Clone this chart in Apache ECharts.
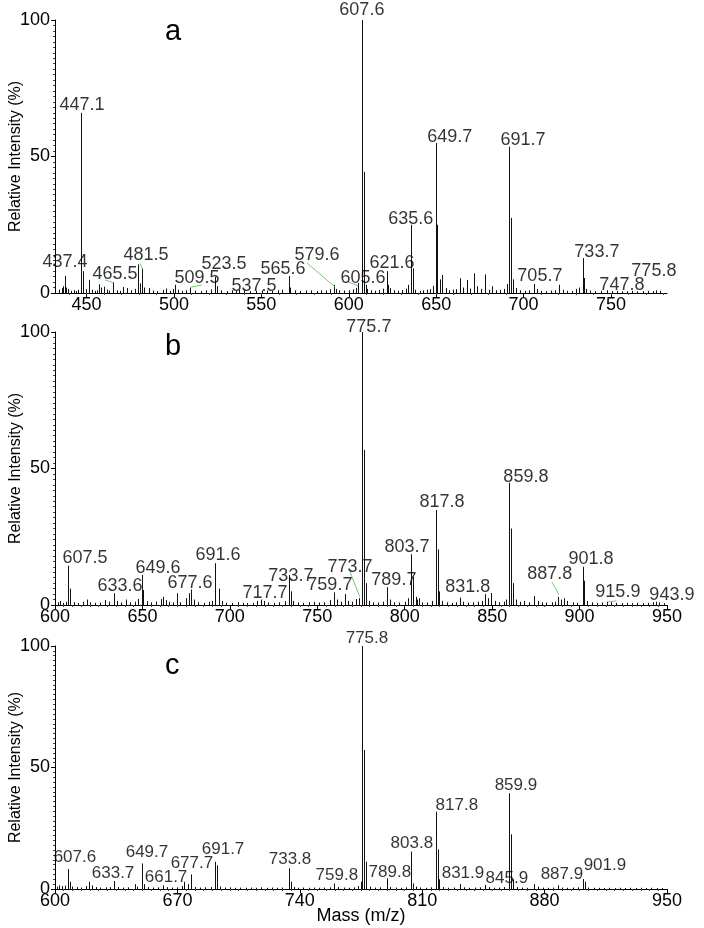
<!DOCTYPE html>
<html><head><meta charset="utf-8">
<script src="https://cdn.jsdelivr.net/npm/echarts/dist/echarts.min.js"></script>
<style>html,body{margin:0;padding:0;background:#fff}#c{width:704px;height:928px}</style>
</head><body><div id="c"></div>
<script>
// ---------- Panel a ----------
var ticksA = [450, 500, 550, 600, 650, 700, 750];
var peaksA = [[437.8,6.3],[447.1,66],[448.1,8],[451.7,4.8],[457.4,3.2],[460.0,2.3],[465.4,3.9],[479.5,10.5],[481.8,9],[500.8,3],[509.2,2.0],[523.7,6],[565.7,6.2],[591.5,3],[605.4,3.7],[607.6,100],[608.6,44.4],[609.6,3],[621.7,8],[622.6,3],[633.9,3],[635.6,25],[636.6,9],[648.1,2.6],[649.7,55],[650.7,25],[651.9,5],[653.6,6.6],[663.7,5.4],[667.5,4.8],[671.7,7.2],[678.0,6.8],[681.8,2.5],[690.5,3.3],[691.7,53.6],[692.7,27.5],[693.7,5],[706.1,3.3],[720.4,3],[733.7,12.8],[734.7,5.5]];
var noiseA = [[434.2,1.2],[435.8,1.8],[436.6,2.5],[438.4,2.0],[439.5,1.5],[441.0,0.8],[442.6,1.0],[444.1,0.7],[445.3,1.2],[449.5,1.4],[453.0,1.2],[454.6,0.8],[456.0,1.0],[458.5,2.0],[461.5,1.3],[463.0,0.9],[467.4,1.0],[469.0,0.8],[471.1,2.2],[473.4,1.8],[475.2,1.0],[477.6,1.5],[480.5,3.5],[483.0,2.0],[485.6,1.8],[488.0,0.9],[490.2,0.7],[493.5,1.1],[495.5,1.6],[497.8,0.8],[499.6,1.4],[502.2,1.2],[504.5,0.8],[507.0,1.0],[512.0,0.9],[515.5,0.7],[518.2,1.0],[521.0,1.3],[524.6,2.5],[527.0,1.0],[530.5,0.7],[533.2,1.0],[535.5,0.8],[537.5,1.2],[540.2,0.9],[543.8,0.7],[547.0,0.8],[550.5,1.0],[553.0,0.9],[556.0,0.7],[559.4,1.0],[562.0,1.2],[566.6,2.0],[569.3,1.0],[572.0,0.8],[575.5,0.9],[578.2,1.0],[581.6,0.8],[584.0,1.0],[587.0,0.9],[589.5,1.4],[592.5,1.5],[594.6,1.0],[597.4,0.9],[600.2,1.0],[602.5,1.3],[604.0,1.8],[610.6,1.5],[612.5,1.0],[614.8,0.8],[617.3,1.1],[619.6,1.6],[623.6,1.8],[625.6,1.0],[628.0,0.8],[630.5,1.1],[632.5,1.6],[638.0,1.2],[640.5,0.8],[642.6,1.0],[644.8,1.2],[646.5,1.4],[655.6,1.8],[657.5,1.0],[659.4,1.2],[661.5,1.4],[665.2,2.0],[669.5,1.6],[673.6,2.5],[675.8,1.5],[680.0,1.2],[684.0,1.0],[686.5,1.2],[688.6,1.5],[695.7,1.8],[698.0,1.0],[700.8,0.8],[703.2,1.0],[707.7,1.5],[710.2,0.8],[713.0,0.7],[715.5,0.9],[718.0,1.0],[722.4,1.2],[725.0,0.8],[727.6,0.7],[730.2,1.5],[731.8,2.0],[735.7,1.5],[738.0,0.9],[741.0,0.7],[744.0,0.8],[747.8,1.0],[750.5,0.7],[753.2,0.8],[756.0,0.6],[759.0,0.7],[762.0,0.8],[765.0,0.6],[768.0,0.7],[771.0,0.8],[774.0,0.7],[775.8,1.0],[778.0,0.8]];
var labelTextA = ['607.6','447.1','649.7','691.7','635.6','621.6','733.7','705.7','747.8','775.8','605.6','579.6','565.6','537.5','523.5','509.5','481.5','465.5','437.4'];
var labelPosA = [[607.5,103.7],[447.4,68.9],[657.8,57.1],[699.6,56.0],[635.5,27.1],[624.7,11.0],[741.9,15.1],[709.3,6.2],[756.2,2.9],[774.5,8.1],[608.1,5.5],[581.8,13.9],[562.4,8.8],[545.8,2.6],[528.6,10.6],[513.2,5.5],[484.0,13.9],[466.3,7.0],[437.7,11.4]];
var leadA = [[[576.1,11.0],[592.1,2.2]],[[599.7,4.0],[605.4,2.7]],[[509.2,2.1],[515.9,2.9]],[[480.6,10.9],[482.1,8.7]],[[460.6,4.8],[465.3,3.8]]];

// ---------- Panel b ----------
var ticksB = [600, 650, 700, 750, 800, 850, 900, 950];
var peaksB = [[607.5,14.4],[608.5,6],[633.6,4.3],[649.6,11],[650.6,5.5],[661.9,3],[669.5,4.3],[676.5,4.3],[677.6,5.7],[691.6,15.3],[693.6,6],[717.7,2],[733.7,11],[734.7,5],[759.7,4.6],[765.6,4],[773.7,2.5],[775.7,100],[776.7,56.8],[777.7,8],[789.7,6.5],[803.7,18.6],[804.7,10.4],[806.5,3],[808.0,2.5],[817.8,34.8],[818.8,20.4],[819.8,5],[831.8,2.7],[846.2,4],[849.4,4.4],[859.8,44.8],[860.8,28],[861.8,8],[874.1,3.3],[887.8,3],[891.2,2.5],[901.8,14],[902.8,8.9],[915.9,1.2],[943.9,1.2]];
var noiseB = [[601.5,1.0],[603.0,1.5],[604.6,0.8],[606.2,1.2],[611.0,1.0],[613.4,0.7],[616.0,1.2],[618.5,2.0],[620.2,1.0],[622.8,0.8],[625.5,0.9],[628.5,1.8],[630.6,1.2],[635.5,1.5],[638.0,0.9],[640.5,2.0],[643.0,1.0],[645.6,1.2],[647.5,2.2],[652.5,1.4],[655.0,1.0],[657.6,1.3],[660.5,2.2],[663.5,1.8],[665.4,1.2],[667.5,1.0],[671.5,1.0],[674.8,2.5],[679.5,2.0],[682.0,1.0],[685.0,0.8],[688.0,1.2],[690.0,1.5],[695.5,1.5],[698.0,0.8],[701.0,0.7],[704.5,1.0],[707.5,0.8],[710.0,0.7],[713.0,0.8],[715.8,1.5],[719.6,1.5],[722.0,0.9],[725.0,0.8],[728.0,1.0],[731.5,1.4],[736.0,1.5],[739.0,0.9],[742.0,0.8],[745.0,1.0],[748.0,1.2],[751.0,0.9],[754.0,1.0],[757.5,1.8],[761.5,2.0],[763.6,1.2],[767.5,1.5],[770.0,1.2],[772.0,2.2],[779.5,1.5],[782.0,1.0],[785.0,0.9],[787.6,1.2],[791.5,2.0],[794.0,1.0],[797.0,0.9],[800.0,1.2],[802.0,2.5],[807.2,2.0],[810.0,1.0],[813.0,0.9],[815.5,1.5],[821.5,1.5],[824.0,1.0],[827.0,0.8],[829.5,1.0],[833.5,1.2],[836.0,0.9],[839.0,1.0],[842.0,1.2],[844.0,1.5],[847.6,2.5],[851.5,1.5],[854.0,1.0],[856.5,1.2],[858.0,2.0],[863.5,2.0],[866.0,1.2],[868.5,1.5],[871.0,1.0],[876.0,1.5],[878.5,1.0],[881.0,0.9],[884.0,1.0],[886.0,1.2],[889.5,2.0],[893.0,1.5],[896.0,1.0],[898.5,0.8],[904.5,1.5],[907.0,1.0],[910.0,0.8],[913.0,0.9],[918.0,1.0],[921.0,0.8],[924.0,0.7],[927.0,0.8],[930.0,0.7],[933.0,0.8],[936.0,0.7],[939.0,0.8],[942.0,1.0],[945.5,1.0],[948.0,0.7]];
var labelTextB = ['775.7','607.5','633.6','649.6','677.6','691.6','717.7','733.7','759.7','773.7','789.7','803.7','817.8','831.8','859.8','887.8','901.8','915.9','943.9'];
var labelPosB = [[779.5,101.8],[617.2,17.2],[637.2,7.0],[658.9,13.6],[677.2,8.1],[693.2,18.3],[720.1,4.4],[734.9,10.6],[757.2,7.3],[768.7,13.9],[793.8,9.2],[801.3,21.2],[821.3,37.7],[836.1,6.6],[869.3,46.9],[883.0,11.4],[906.5,16.8],[921.9,4.8],[952.8,3.7]];
var leadB = [[[768.7,12.1],[774.4,2.9]],[[884.2,8.4],[888.2,3.7]],[[916.4,1.2],[921.1,1.5]]];

// ---------- Panel c ----------
var ticksC = [600, 670, 740, 810, 880, 950];
var peaksC = [[607.6,8.2],[608.6,3],[619.6,3],[633.7,3.3],[645.5,2],[649.7,10.5],[650.7,2],[661.7,1.5],[674.0,3],[677.7,6],[691.7,11.2],[692.7,9.7],[733.8,8.5],[734.8,3],[759.8,2.3],[774.8,3],[775.8,100],[776.8,57.2],[777.8,11.2],[789.8,4.4],[803.8,15.4],[804.8,2.3],[817.8,31.8],[818.8,16.3],[819.8,4],[831.9,2],[845.9,1.7],[859.9,39.4],[860.9,22.5],[861.9,4],[873.9,2],[887.9,1.5],[901.9,4.1],[902.9,3]];
var noiseC = [[601.0,1.0],[602.5,1.5],[604.0,1.2],[605.5,1.4],[610.0,1.0],[612.5,0.8],[615.0,0.6],[617.5,1.2],[621.0,1.5],[623.5,0.8],[626.0,0.6],[629.0,0.7],[631.5,0.8],[636.0,0.8],[639.0,0.6],[642.0,0.7],[647.0,1.0],[653.0,0.8],[656.0,0.6],[659.0,0.7],[664.0,0.8],[667.0,0.6],[670.0,0.7],[672.5,1.2],[676.0,2.0],[680.0,0.8],[683.0,0.6],[686.0,0.7],[689.0,0.8],[694.5,1.0],[697.0,0.6],[700.0,0.7],[703.0,0.5],[706.0,0.6],[709.0,0.5],[712.0,0.6],[715.0,0.5],[718.0,0.7],[721.0,0.5],[724.0,0.6],[727.0,0.5],[730.0,0.6],[736.5,0.8],[739.0,0.5],[742.0,0.6],[745.0,0.5],[748.0,0.6],[751.0,0.5],[754.0,0.6],[757.0,0.7],[762.0,0.8],[765.0,0.6],[768.0,0.5],[771.0,0.7],[773.5,1.2],[780.0,1.0],[783.0,0.6],[786.0,0.7],[791.5,0.8],[795.0,0.6],[798.0,0.5],[801.0,0.7],[806.5,1.0],[809.0,0.6],[812.0,0.5],[815.0,0.7],[822.0,0.8],[825.0,0.5],[828.0,0.6],[834.0,0.7],[837.0,0.5],[840.0,0.6],[843.0,0.7],[848.0,0.8],[851.0,0.5],[854.0,0.6],[857.0,0.8],[864.0,0.8],[867.0,0.6],[870.0,0.5],[876.0,1.0],[879.0,0.6],[882.0,0.5],[885.0,0.6],[890.0,0.6],[893.0,0.5],[896.0,0.6],[899.0,0.7],[905.0,0.6],[908.0,0.5],[911.0,0.5],[914.0,0.4],[917.0,0.5],[920.0,0.4],[923.0,0.5],[926.0,0.4],[929.0,0.5],[932.0,0.4],[935.0,0.5],[938.0,0.4],[941.0,0.5],[944.0,0.4],[947.0,0.4]];
var labelTextC = ['775.8','607.6','633.7','649.7','661.7','677.7','691.7','733.8','759.8','789.8','803.8','817.8','831.9','845.9','859.9','887.9','901.9'];
var labelPosC = [[778.4,103.3],[611.4,13.2],[633.2,6.6],[652.6,15.2],[663.5,4.9],[678.3,10.7],[696.1,16.5],[734.4,12.3],[761.2,5.8],[791.5,7.0],[804.1,18.9],[829.8,34.6],[833.3,6.6],[858.4,4.5],[863.6,42.8],[889.9,6.2],[914.5,9.9]];
var leadC = [];

var yTicks = [0, 50, 100];
var panelNames = ['a', 'b', 'c'];

// ---------- build ----------
var FONT = '"Liberation Sans", Arial, Helvetica, sans-serif';
var panels = [
  {top: 20, height: 273, min: 432, max: 782, interval: null, minorSplit: 10, ticks: ticksA, peaks: peaksA.concat(noiseA), lt: labelTextA, lp: labelPosA, lead: leadA, lfs: 18},
  {top: 332, height: 273, min: 600, max: 950, interval: 50, minorSplit: 10, ticks: ticksB, peaks: peaksB.concat(noiseB), lt: labelTextB, lp: labelPosB, lead: leadB, lfs: 18},
  {top: 646, height: 243, min: 600, max: 950, interval: 70, minorSplit: 14, ticks: ticksC, peaks: peaksC.concat(noiseC), lt: labelTextC, lp: labelPosC, lead: leadC, lfs: 17}
];
var grids = [], xAxes = [], yAxes = [], series = [], graphics = [];
var letterY = [34, 349, 668];
panels.forEach(function (p, i) {
  grids.push({left: 55, width: 612, top: p.top, height: p.height, outerBoundsMode: 'none', containLabel: false});
  var xa = {
    gridIndex: i, type: 'value', min: p.min, max: p.max,
    axisLine: {show: true, onZero: false, lineStyle: {color: '#000', width: 1}},
    axisTick: {show: true, length: 4, lineStyle: {color: '#000'}, customValues: p.ticks},
    minorTick: {show: true, splitNumber: p.minorSplit, length: 2, lineStyle: {color: '#444'}},
    axisLabel: {color: '#000', fontSize: 18, fontFamily: FONT, margin: 3, customValues: p.ticks},
    splitLine: {show: false}, minorSplitLine: {show: false}
  };
  if (p.interval) xa.interval = p.interval;
  if (i === 2) {
    xa.name = 'Mass (m/z)'; xa.nameLocation = 'middle'; xa.nameGap = 18; xa.nameMoveOverlap = false;
    xa.nameTextStyle = {color: '#000', fontSize: 18, fontFamily: FONT};
  }
  xAxes.push(xa);
  yAxes.push({
    gridIndex: i, type: 'value', min: 0, max: 100, interval: 50,
    name: 'Relative Intensity (%)', nameLocation: 'middle', nameRotate: 90, nameGap: 31,
    nameMoveOverlap: false,
    nameTextStyle: {color: '#000', fontSize: 16, fontFamily: FONT},
    axisLine: {show: true, lineStyle: {color: '#000', width: 1}},
    axisTick: {show: true, length: 4, lineStyle: {color: '#000'}},
    minorTick: {show: true, splitNumber: 25, length: 2, lineStyle: {color: '#444'}},
    axisLabel: {color: '#000', fontSize: 18, fontFamily: FONT, margin: 5, customValues: yTicks},
    splitLine: {show: false}, minorSplitLine: {show: false}
  });
  series.push({
    type: 'custom', xAxisIndex: i, yAxisIndex: i, silent: true,
    encode: {x: 0, y: 1},
    data: p.peaks,
    renderItem: function (params, api) {
      var x = api.value(0), y = api.value(1);
      var p0 = api.coord([x, 0]), p1 = api.coord([x, y]);
      var px = Math.round(p0[0]) + 0.5;
      return {type: 'line', shape: {x1: px, y1: p0[1], x2: px, y2: p1[1]},
              style: {stroke: '#111', lineWidth: 1}};
    }
  });
  series.push({
    type: 'lines', coordinateSystem: 'cartesian2d', xAxisIndex: i, yAxisIndex: i, silent: true,
    lineStyle: {color: '#6fcf6f', width: 1, opacity: 1},
    data: p.lead.map(function (c) { return {coords: c}; })
  });
  series.push({
    type: 'scatter', xAxisIndex: i, yAxisIndex: i, silent: true, clip: false,
    symbolSize: 1, itemStyle: {color: 'rgba(0,0,0,0)'},
    label: {show: true, position: 'inside', color: '#000', fontSize: p.lfs, fontFamily: FONT},
    labelLayout: {hideOverlap: false},
    data: p.lp.map(function (pos, k) { return {value: pos, label: {formatter: p.lt[k]}}; })
  });
  graphics.push({type: 'text', left: 165, top: letterY[i] - 17,
    style: {text: panelNames[i], fontSize: 29, fontFamily: FONT, fill: '#000'}});
});

var chart = echarts.init(document.getElementById('c'), null, {renderer: 'canvas'});
chart.setOption({
  animation: false, backgroundColor: '#fff',
  grid: grids, xAxis: xAxes, yAxis: yAxes, series: series, graphic: graphics
});
</script></body></html>
